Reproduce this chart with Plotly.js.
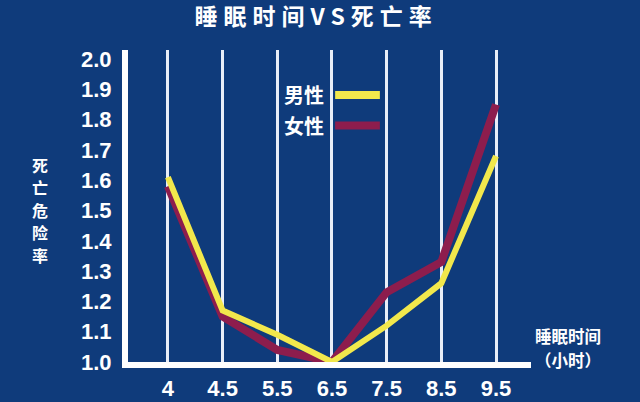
<!DOCTYPE html>
<html>
<head>
<meta charset="utf-8">
<script src="https://cdn.plot.ly/plotly-3.0.1.min.js"></script>
<style>
  html, body { margin: 0; padding: 0; background: #0f3b7b; }
  #chart { width: 640px; height: 402px; }
</style>
</head>
<body>
<div id="chart"></div>
<script>
// ---- data ----
const sleepHours = ['4', '4.5', '5.5', '6.5', '7.5', '8.5', '9.5'];
const maleRisk   = [1.61, 1.17, 1.09, 1.00, 1.12, 1.26, 1.68];
const femaleRisk = [1.58, 1.15, 1.04, 1.00, 1.23, 1.33, 1.85];
const yTicks     = [1.0, 1.1, 1.2, 1.3, 1.4, 1.5, 1.6, 1.7, 1.8, 1.9, 2.0];
const seriesNames = ['男性', '女性'];
const yTitleChars = ['死', '亡', '危', '险', '率'];
const xTitleLines = ['睡眠时间', '（小时）'];

const BG = '#0f3b7b';
const YELLOW = '#f2e84c';
const RED = '#8d1d4d';
const FONT = '"Liberation Sans", "Noto Sans CJK SC", Arial, sans-serif';
const CJK = '"Noto Sans CJK SC", "Liberation Sans", sans-serif';

const traces = [
  {
    x: sleepHours, y: femaleRisk, name: seriesNames[1], type: 'scatter', mode: 'lines',
    line: { color: RED, width: 8 }, showlegend: false, hoverinfo: 'skip'
  },
  {
    x: sleepHours, y: maleRisk, name: seriesNames[0], type: 'scatter', mode: 'lines',
    line: { color: YELLOW, width: 6 }, showlegend: false, hoverinfo: 'skip'
  }
];

const annotations = [
  { text: seriesNames[0], xref: 'paper', yref: 'paper', x: 0.437, y: 0.856,
    xanchor: 'center', yanchor: 'middle', showarrow: false,
    font: { family: CJK, size: 20, color: '#ffffff', weight: 'bold' } },
  { text: seriesNames[1], xref: 'paper', yref: 'paper', x: 0.437, y: 0.758,
    xanchor: 'center', yanchor: 'middle', showarrow: false,
    font: { family: CJK, size: 20, color: '#ffffff', weight: 'bold' } }
];
// x-axis title, two rows at the right end of the axis
xTitleLines.forEach((line, i) => {
  annotations.push({
    text: line, xref: 'paper', yref: 'paper', x: 1.092, y: 0.082 - i * 0.074,
    xanchor: 'center', yanchor: 'middle', showarrow: false, borderpad: 0,
    font: { family: CJK, size: 16.5, color: '#ffffff', weight: 'bold' }
  });
});
// vertical y-axis title, one character per row
yTitleChars.forEach((ch, i) => {
  annotations.push({
    text: ch, xref: 'paper', yref: 'paper', x: -0.218, y: 0.632 - i * 0.072,
    xanchor: 'center', yanchor: 'middle', showarrow: false, borderpad: 0,
    font: { family: CJK, size: 16, color: '#ffffff', weight: 'bold' }
  });
});

const layout = {
  width: 640, height: 402,
  paper_bgcolor: BG, plot_bgcolor: BG,
  margin: { l: 128, r: 109, t: 50, b: 40, pad: 0 },
  title: {
    text: '睡眠时间VS死亡率',
    font: { family: CJK, size: 23, color: '#ffffff', weight: 'bold' },
    x: 0.494, xanchor: 'center', y: 1 - 17 / 402, yanchor: 'middle', yref: 'container'
  },
  xaxis: {
    type: 'category',
    categoryorder: 'array', categoryarray: sleepHours,
    range: [-0.73, 6.64],
    showgrid: true, gridcolor: '#e8eef8', gridwidth: 3,
    showline: true, linecolor: '#ffffff', linewidth: 6,
    zeroline: false, ticks: '', ticklabelstandoff: 2,
    tickfont: { family: FONT, size: 22, color: '#ffffff', weight: 'bold' },
    fixedrange: true
  },
  yaxis: {
    range: [1.0, 2.03],
    tickvals: yTicks, ticktext: yTicks.map(v => v.toFixed(1)),
    showgrid: false, zeroline: false,
    showline: true, linecolor: '#ffffff', linewidth: 6,
    ticks: '', ticklabelstandoff: 6,
    tickfont: { family: FONT, size: 22, color: '#ffffff', weight: 'bold' },
    fixedrange: true
  },
  shapes: [
    { type: 'line', xref: 'paper', yref: 'paper', x0: 0.514, x1: 0.625, y0: 0.856, y1: 0.856,
      line: { color: YELLOW, width: 8 } },
    { type: 'line', xref: 'paper', yref: 'paper', x0: 0.514, x1: 0.625, y0: 0.758, y1: 0.758,
      line: { color: RED, width: 8 } }
  ],
  annotations: annotations
};

Plotly.newPlot('chart', traces, layout, { displayModeBar: false, staticPlot: true }).then(() => {
  const t = document.querySelector('.gtitle');
  if (t) t.style.letterSpacing = '6px';
});
</script>
</body>
</html>
